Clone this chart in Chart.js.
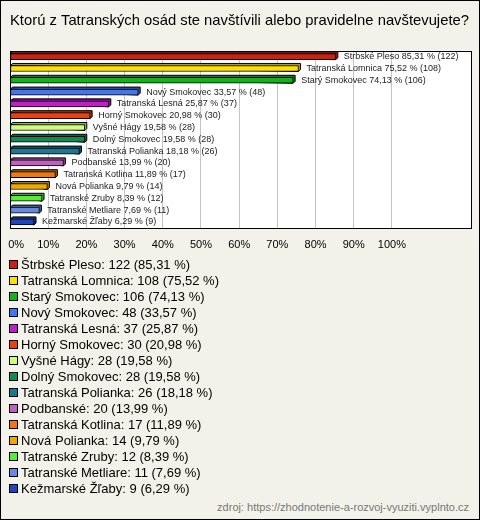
<!DOCTYPE html>
<html>
<head>
<meta charset="utf-8">
<script src="https://cdn.jsdelivr.net/npm/chart.js@4"></script>
<style>
  html, body { margin: 0; padding: 0; }
  #wrap {
    position: relative; width: 480px; height: 520px; box-sizing: border-box;
    border: 1px solid #000; background: #f3f2ea; overflow: hidden;
    font-family: 'Liberation Sans', Arial, sans-serif;
  }
  #chart { position: absolute; left: 0; top: 0; }
  #legend { position: absolute; left: 8px; top: 256px; }
  .row { height: 16px; line-height: 16px; font-size: 13px; color: #000; white-space: nowrap; }
  .box { display: inline-block; width: 7px; height: 7px; border: 1px solid #000; margin-right: 3px; vertical-align: 0px; }
  #source { position: absolute; right: 10px; top: 500px; font-size: 11px; color: #777; }
</style>
</head>
<body>
<div id="wrap">
  <canvas id="chart" width="478" height="262"></canvas>
  <div id="legend"></div>
  <div id="source">zdroj: https://zhodnotenie-a-rozvoj-vyuziti.vyplnto.cz</div>
</div>
<script>
const places = ['Štrbské Pleso', 'Tatranská Lomnica', 'Starý Smokovec', 'Nový Smokovec', 'Tatranská Lesná',
  'Horný Smokovec', 'Vyšné Hágy', 'Dolný Smokovec', 'Tatranská Polianka', 'Podbanské',
  'Tatranská Kotlina', 'Nová Polianka', 'Tatranské Zruby', 'Tatranské Metliare', 'Kežmarské Žľaby'];
const counts = [122, 108, 106, 48, 37, 30, 28, 28, 26, 20, 17, 14, 12, 11, 9];
const percents = [85.31, 75.52, 74.13, 33.57, 25.87, 20.98, 19.58, 19.58, 18.18, 13.99, 11.89, 9.79, 8.39, 7.69, 6.29];
const colors = ['#cc2211', '#ffe000', '#11b51a', '#4477ee', '#c01ec8', '#e84412', '#ccff77', '#118a5a',
  '#1a7890', '#c060c0', '#ee7711', '#eeaa00', '#55ee33', '#6688dd', '#2244bb'];
const xTicks = [0, 10, 20, 30, 40, 50, 60, 70, 80, 90, 100];

const fmt = v => v.toFixed(2).replace('.', ',');

// legend below the chart
const legend = document.getElementById('legend');
places.forEach((p, i) => {
  const row = document.createElement('div');
  row.className = 'row';
  row.innerHTML = '<span class="box" style="background:' + colors[i] + '"></span>' +
    p + ': ' + counts[i] + ' (' + fmt(percents[i]) + ' %)';
  legend.appendChild(row);
});

function shade(hex, f) {
  const n = parseInt(hex.slice(1), 16);
  const r = Math.round(((n >> 16) & 255) * f), g = Math.round(((n >> 8) & 255) * f), b = Math.round((n & 255) * f);
  return 'rgb(' + r + ',' + g + ',' + b + ')';
}

const depth = 2;

const boxPlugin = {
  id: 'box',
  beforeDraw(chart) {
    const { ctx, chartArea: a } = chart;
    ctx.save();
    ctx.fillStyle = '#fff';
    ctx.fillRect(a.left, a.top, a.right - a.left, a.bottom - a.top);
    ctx.restore();
  },
  beforeDatasetsDraw(chart) {
    // 3d faces behind each bar
    const ctx = chart.ctx;
    const meta = chart.getDatasetMeta(0);
    ctx.save();
    ctx.lineWidth = 1;
    ctx.strokeStyle = '#000';
    meta.data.forEach((bar, i) => {
      const top = bar.y - bar.height / 2, bottom = bar.y + bar.height / 2;
      ctx.fillStyle = shade(colors[i], 0.7);
      ctx.beginPath();
      ctx.moveTo(bar.base, top);
      ctx.lineTo(bar.base + depth, top - depth);
      ctx.lineTo(bar.x + depth, top - depth);
      ctx.lineTo(bar.x + depth, bottom - depth);
      ctx.lineTo(bar.x, bottom);
      ctx.closePath();
      ctx.fill();
      ctx.stroke();
    });
    ctx.restore();
  },
  afterDatasetsDraw(chart) {
    const ctx = chart.ctx;
    const meta = chart.getDatasetMeta(0);
    ctx.save();
    ctx.font = '9px "Liberation Sans", Arial, sans-serif';
    ctx.fillStyle = '#222';
    ctx.textBaseline = 'middle';
    meta.data.forEach((bar, i) => {
      ctx.fillText(places[i] + ' ' + fmt(percents[i]) + ' % (' + counts[i] + ')', bar.x + depth + 6, bar.y);
    });
    ctx.restore();
  },
  afterDraw(chart) {
    const { ctx, chartArea: a } = chart;
    ctx.save();
    ctx.strokeStyle = '#000';
    ctx.lineWidth = 1;
    ctx.strokeRect(Math.round(a.left) + 0.5, Math.round(a.top) + 0.5, Math.round(a.right - a.left), Math.round(a.bottom - a.top));
    ctx.restore();
  }
};

new Chart(document.getElementById('chart'), {
  type: 'bar',
  data: {
    labels: places,
    datasets: [{
      data: percents,
      backgroundColor: colors,
      borderColor: '#000',
      borderWidth: 1,
      borderSkipped: false,
      barThickness: 6
    }]
  },
  options: {
    indexAxis: 'y',
    responsive: false,
    animation: false,
    layout: { padding: { left: 9, right: 8, top: 0, bottom: 0 } },
    plugins: {
      legend: { display: false },
      tooltip: { enabled: false },
      title: {
        display: true,
        text: 'Ktorú z Tatranských osád ste navštívili alebo pravidelne navštevujete?',
        align: 'start',
        color: '#000',
        padding: { top: 11, bottom: 21 },
        font: { family: '"Liberation Sans", Arial, sans-serif', size: 14.8, weight: 'normal' }
      }
    },
    scales: {
      x: {
        min: 0,
        max: 120.7,
        afterBuildTicks: axis => { axis.ticks = xTicks.map(v => ({ value: v })); },
        afterFit: axis => { axis.paddingLeft = 0; axis.paddingRight = 0; },
        grid: { color: '#c4c4c4', drawTicks: false },
        border: { display: false },
        ticks: {
          padding: 11,
          color: '#000',
          font: { family: '"Liberation Sans", Arial, sans-serif', size: 11 },
          callback: v => (v === 0 ? '    ' : '') + v + '%'
        }
      },
      y: {
        display: false,
        grid: { display: false }
      }
    }
  },
  plugins: [boxPlugin]
});
</script>
</body>
</html>
